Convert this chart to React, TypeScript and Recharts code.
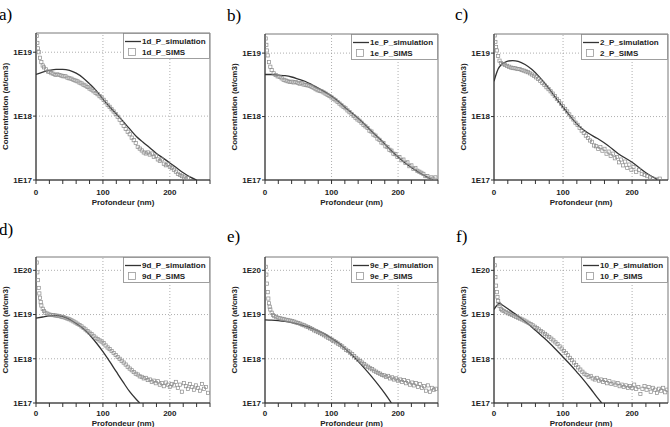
import React from 'react';
import { ComposedChart, Line, Scatter, XAxis, YAxis, ReferenceLine, ReferenceArea } from 'recharts';

type P = [number, number];

// depth (nm), concentration (at/cm3)
const sim1d: P[] = [[0,4.5e18],[10,4.9e18],[20,5.2e18],[30,5.4e18],[40,5.4e18],[50,5.2e18],[60,4.7e18],[70,4.0e18],[80,3.2e18],[90,2.5e18],[100,1.85e18],[110,1.4e18],[120,1.08e18],[130,8.3e17],[140,6.3e17],[150,4.8e17],[160,3.9e17],[170,3.2e17],[180,2.6e17],[190,2.2e17],[200,1.85e17],[210,1.55e17],[220,1.3e17],[230,1.12e17],[240,1.0e17]];
const sims1d: P[] = [[1,1.8e19],[2,1.4e19],[3,1.15e19],[4,1.0e19],[6,8.2e18],[8,7e18],[10,6.2e18],[12,5.8e18],[15,5.4e18],[18,5.0e18],[20,4.9e18],[23,4.7e18],[26,4.6e18],[29,4.4e18],[32,4.5e18],[35,4.4e18],[38,4.3e18],[41,4.2e18],[44,4.2e18],[47,4.0e18],[50,3.9e18],[53,3.85e18],[56,3.7e18],[59,3.6e18],[62,3.5e18],[65,3.35e18],[68,3.25e18],[71,3.1e18],[74,3.0e18],[77,2.85e18],[80,2.7e18],[83,2.6e18],[86,2.45e18],[89,2.3e18],[92,2.2e18],[95,2.05e18],[98,1.95e18],[101,1.8e18],[104,1.65e18],[107,1.5e18],[110,1.4e18],[113,1.28e18],[116,1.18e18],[119,1.08e18],[122,9.8e17],[125,8.8e17],[128,7.8e17],[131,7.0e17],[134,6.3e17],[137,5.7e17],[140,5.2e17],[143,4.6e17],[146,4.2e17],[149,3.8e17],[152,3.3e17],[155,3.1e17],[158,2.9e17],[161,2.7e17],[164,2.6e17],[167,2.7e17],[170,2.5e17],[173,2.6e17],[176,2.3e17],[179,2.4e17],[182,2.1e17],[185,2.0e17],[188,2.1e17],[191,1.8e17],[194,1.7e17],[197,1.75e17],[200,1.6e17],[203,1.55e17],[206,1.45e17],[209,1.35e17],[212,1.25e17],[215,1.2e17],[218,1.15e17],[221,1.1e17],[224,1.05e17],[227,1.08e17]];

const sim1e: P[] = [[0,4.6e18],[10,4.6e18],[20,4.5e18],[30,4.4e18],[40,4.2e18],[50,3.9e18],[60,3.6e18],[70,3.2e18],[80,2.8e18],[90,2.45e18],[100,2.1e18],[110,1.75e18],[120,1.4e18],[137,1.0e18],[150,7.5e17],[162,5.6e17],[175,4.2e17],[187,3.1e17],[200,2.3e17],[212,1.8e17],[225,1.45e17],[238,1.2e17],[252,1.0e17]];
const sims1e: P[] = [[1,1.7e19],[2,1.35e19],[3,1.1e19],[4,9.2e18],[6,7.2e18],[8,6.1e18],[10,5.4e18],[13,4.8e18],[16,4.5e18],[19,4.3e18],[22,4.2e18],[25,4.0e18],[28,3.8e18],[31,3.7e18],[34,3.6e18],[37,3.5e18],[40,3.55e18],[43,3.45e18],[46,3.5e18],[49,3.4e18],[52,3.3e18],[55,3.35e18],[58,3.2e18],[61,3.15e18],[64,3.1e18],[67,3.05e18],[70,2.95e18],[73,2.85e18],[76,2.7e18],[79,2.6e18],[82,2.55e18],[85,2.5e18],[88,2.4e18],[91,2.3e18],[94,2.2e18],[97,2.1e18],[100,2.0e18],[103,1.9e18],[106,1.8e18],[109,1.7e18],[112,1.6e18],[115,1.5e18],[118,1.42e18],[121,1.35e18],[124,1.25e18],[127,1.17e18],[130,1.1e18],[133,1.02e18],[136,9.6e17],[139,9e17],[142,8.6e17],[145,8.0e17],[148,7.4e17],[151,7.0e17],[154,6.6e17],[157,6.0e17],[160,5.8e17],[163,5.2e17],[166,5.0e17],[169,4.5e17],[172,4.3e17],[175,3.9e17],[178,3.8e17],[181,3.4e17],[184,3.3e17],[187,3.0e17],[190,2.9e17],[193,2.6e17],[196,2.55e17],[199,2.3e17],[202,2.3e17],[205,2.05e17],[208,2.1e17],[211,1.85e17],[214,1.9e17],[217,1.65e17],[220,1.7e17],[223,1.5e17],[226,1.55e17],[229,1.4e17],[232,1.35e17],[235,1.3e17],[238,1.25e17],[241,1.15e17],[244,1.15e17],[247,1.05e17],[250,1.1e17],[253,1.05e17],[256,1.1e17]];

const sim2: P[] = [[0,3.6e18],[3,4.6e18],[6,5.6e18],[10,6.5e18],[15,7.1e18],[20,7.5e18],[27,7.6e18],[35,7.4e18],[45,6.6e18],[55,5.5e18],[65,4.3e18],[75,3.2e18],[85,2.3e18],[95,1.65e18],[105,1.2e18],[115,8.8e17],[125,6.8e17],[135,5.6e17],[150,4.5e17],[165,3.5e17],[180,2.6e17],[200,1.9e17],[220,1.3e17],[238,1.0e17]];
const sims2: P[] = [[1,1.9e19],[2,1.5e19],[3,1.25e19],[4,1.1e19],[6,9e18],[8,7.6e18],[10,7e18],[13,6.7e18],[16,6.5e18],[19,6.3e18],[22,6.1e18],[25,5.9e18],[28,5.8e18],[31,5.75e18],[34,5.6e18],[37,5.6e18],[40,5.4e18],[43,5.3e18],[46,5.15e18],[49,5.0e18],[52,4.8e18],[55,4.6e18],[58,4.4e18],[61,4.15e18],[64,3.9e18],[67,3.65e18],[70,3.4e18],[73,3.15e18],[76,2.9e18],[79,2.7e18],[82,2.5e18],[85,2.3e18],[88,2.1e18],[91,1.9e18],[94,1.75e18],[97,1.6e18],[100,1.45e18],[103,1.32e18],[106,1.2e18],[109,1.08e18],[112,9.8e17],[115,9.0e17],[118,8.0e17],[121,7.4e17],[124,6.6e17],[127,6.0e17],[130,5.5e17],[133,5.0e17],[136,4.6e17],[139,4.2e17],[142,4.0e17],[145,3.5e17],[148,3.4e17],[151,3.1e17],[154,3.3e17],[157,2.9e17],[160,3.1e17],[163,2.6e17],[166,2.8e17],[169,2.4e17],[172,2.6e17],[175,2.2e17],[178,2.3e17],[181,1.9e17],[184,2.1e17],[187,1.7e17],[190,1.95e17],[193,1.55e17],[196,1.75e17],[199,1.45e17],[202,1.6e17],[206,1.35e17],[210,1.45e17],[214,1.25e17],[218,1.2e17],[222,1.15e17],[226,1.1e17],[230,1.05e17],[235,1.02e17],[240,1.05e17]];

const sim9d: P[] = [[0,8.3e18],[10,8.8e18],[20,9.3e18],[30,9.5e18],[40,9.0e18],[50,7.8e18],[60,6.3e18],[70,4.9e18],[80,3.5e18],[90,2.3e18],[100,1.45e18],[110,8.7e17],[120,5.1e17],[130,3.0e17],[140,1.8e17],[150,1.2e17],[155,1.0e17]];
const sims9d: P[] = [[1,1.5e20],[2,9e19],[3,6e19],[4,4e19],[5,3e19],[6,2.4e19],[7,1.9e19],[8,1.6e19],[10,1.35e19],[12,1.2e19],[14,1.1e19],[17,1.05e19],[20,1.0e19],[23,9.8e18],[26,9.7e18],[29,9.5e18],[32,9.4e18],[35,9.2e18],[38,8.9e18],[41,8.7e18],[44,8.4e18],[47,8.1e18],[50,7.8e18],[53,7.4e18],[56,7.0e18],[59,6.6e18],[62,6.2e18],[65,5.8e18],[68,5.4e18],[71,5.0e18],[74,4.6e18],[77,4.2e18],[80,3.9e18],[83,3.6e18],[86,3.3e18],[89,3.0e18],[92,2.8e18],[95,2.6e18],[98,2.45e18],[101,2.25e18],[104,2.0e18],[107,1.8e18],[110,1.65e18],[113,1.5e18],[116,1.35e18],[119,1.22e18],[122,1.1e18],[125,1.0e18],[128,9.0e17],[131,8.2e17],[134,7.4e17],[137,6.6e17],[140,6.0e17],[143,5.5e17],[146,5.0e17],[149,4.6e17],[152,4.4e17],[155,4.0e17],[158,3.9e17],[161,3.6e17],[164,3.7e17],[167,3.3e17],[170,3.4e17],[173,3.0e17],[176,3.2e17],[179,2.8e17],[182,3.1e17],[185,2.6e17],[188,2.8e17],[191,2.4e17],[194,2.9e17],[197,2.6e17],[200,2.3e17],[203,2.7e17],[206,2.5e17],[209,3.0e17],[212,2.2e17],[215,2.6e17],[218,1.8e17],[221,2.8e17],[224,2.4e17],[227,2.1e17],[230,2.7e17],[233,2.3e17],[236,2.0e17],[239,2.5e17],[242,2.2e17],[245,1.9e17],[248,2.7e17],[251,2.1e17],[254,2.3e17],[257,1.7e17]];

const sim9e: P[] = [[0,7.6e18],[10,7.5e18],[20,7.3e18],[30,7.0e18],[40,6.6e18],[50,6.1e18],[60,5.5e18],[70,4.9e18],[80,4.2e18],[90,3.6e18],[100,2.9e18],[110,2.3e18],[120,1.7e18],[130,1.25e18],[140,8.8e17],[150,6.0e17],[160,4.0e17],[170,2.6e17],[180,1.65e17],[190,1.0e17]];
const sims9e: P[] = [[1,1.2e20],[2,8e19],[3,5e19],[4,3.2e19],[5,2.3e19],[6,1.8e19],[7,1.5e19],[8,1.3e19],[10,1.1e19],[12,9.8e18],[14,9.2e18],[17,8.7e18],[20,8.4e18],[23,8.2e18],[26,8.0e18],[29,7.8e18],[32,7.6e18],[35,7.4e18],[38,7.3e18],[41,7.1e18],[44,6.9e18],[47,6.6e18],[50,6.4e18],[53,6.2e18],[56,5.9e18],[59,5.7e18],[62,5.4e18],[65,5.2e18],[68,4.9e18],[71,4.7e18],[74,4.4e18],[77,4.2e18],[80,4.0e18],[83,3.8e18],[86,3.6e18],[89,3.4e18],[92,3.2e18],[95,3.0e18],[98,2.85e18],[101,2.7e18],[104,2.5e18],[107,2.35e18],[110,2.2e18],[113,2.05e18],[116,1.9e18],[119,1.75e18],[122,1.6e18],[125,1.5e18],[128,1.38e18],[131,1.27e18],[134,1.15e18],[137,1.05e18],[140,9.6e17],[143,8.9e17],[146,8.2e17],[149,7.6e17],[152,7.0e17],[155,6.6e17],[158,6.1e17],[161,5.8e17],[164,5.4e17],[167,5.1e17],[170,4.8e17],[173,4.6e17],[176,4.3e17],[179,4.2e17],[182,3.9e17],[185,4.1e17],[188,3.6e17],[191,3.8e17],[194,3.4e17],[197,3.6e17],[200,3.2e17],[203,3.4e17],[206,3.0e17],[209,3.3e17],[212,2.8e17],[215,3.1e17],[218,2.6e17],[221,2.9e17],[224,2.5e17],[227,2.8e17],[230,2.3e17],[233,2.7e17],[236,2.2e17],[239,2.4e17],[242,1.9e17],[245,2.5e17],[248,1.8e17],[251,2.2e17],[254,2.0e17],[257,2.1e17]];

const sim10: P[] = [[0,1.3e19],[4,1.6e19],[8,1.8e19],[12,1.65e19],[20,1.35e19],[30,1.05e19],[40,8.0e18],[50,6.0e18],[60,4.4e18],[70,3.2e18],[80,2.3e18],[90,1.6e18],[100,1.1e18],[110,7.5e17],[120,5.0e17],[130,3.3e17],[140,2.1e17],[150,1.3e17],[156,1.0e17]];
const sims10: P[] = [[1,1.3e20],[2,7e19],[3,4.5e19],[4,3.2e19],[5,2.5e19],[6,2.0e19],[7,1.75e19],[8,1.55e19],[10,1.35e19],[12,1.25e19],[14,1.2e19],[17,1.13e19],[20,1.07e19],[23,1.02e19],[26,9.8e18],[29,9.3e18],[32,8.9e18],[35,8.5e18],[38,8.1e18],[41,7.7e18],[44,7.3e18],[47,6.9e18],[50,6.5e18],[53,6.1e18],[56,5.7e18],[59,5.3e18],[62,4.95e18],[65,4.6e18],[68,4.25e18],[71,3.95e18],[74,3.65e18],[77,3.35e18],[80,3.1e18],[83,2.85e18],[86,2.6e18],[89,2.35e18],[92,2.15e18],[95,1.9e18],[98,1.7e18],[101,1.5e18],[104,1.35e18],[107,1.2e18],[110,1.05e18],[113,9.3e17],[116,8.2e17],[119,7.2e17],[122,6.4e17],[125,5.7e17],[128,5.1e17],[131,4.6e17],[134,4.3e17],[137,3.9e17],[140,4.1e17],[143,3.6e17],[146,3.4e17],[149,3.7e17],[152,3.2e17],[155,3.4e17],[158,3.0e17],[161,3.3e17],[164,2.8e17],[167,3.1e17],[170,2.7e17],[173,2.9e17],[176,2.6e17],[179,2.8e17],[182,2.4e17],[185,2.6e17],[188,2.3e17],[191,2.5e17],[194,2.2e17],[197,2.4e17],[200,2.2e17],[203,2.6e17],[206,2.1e17],[209,2.3e17],[212,1.6e17],[215,2.1e17],[218,2.4e17],[221,2.0e17],[224,2.3e17],[227,1.8e17],[230,2.2e17],[233,2.0e17],[236,1.7e17],[239,2.1e17],[242,1.9e17],[245,2.2e17],[248,1.75e17],[251,2.0e17]];

const xTicks = [0, 20, 40, 60, 80, 100, 120, 140, 160, 180, 200, 220, 240, 260];
const yTicksTop = [1e17, 1e18, 1e19];
const yTicksBottom = [1e17, 1e18, 1e19, 1e20];

const FONT = '"Liberation Sans", Arial, sans-serif';
const toPts = (arr: P[]) => arr.map(([x, y]) => ({ x, y }));

const Square = (p: any) => (
  <rect x={p.cx - 1.6} y={p.cy - 1.6} width={3.2} height={3.2} fill="none" stroke="#8a8a8a" strokeWidth={0.7} />
);

interface PanelProps {
  plotLeft: number; plotTop: number; plotW: number; plotH: number;
  xMax: number; yMax: number; yTicks: number[];
  sim: P[]; sims: P[]; name: string; labelOffset: number; tickGap: number;
}

function Panel({ plotLeft, plotTop, plotW, plotH, xMax, yMax, yTicks, sim, sims, name, labelOffset, tickGap }: PanelProps) {
  const yw = 36, mt = 10, xh = 30, mr = 2;
  const W = yw + plotW + mr, H = mt + plotH + xh;
  const tickStyle = { fontSize: 8, fontWeight: 'bold' as const, fill: '#222', fontFamily: FONT };
  const grid = { stroke: '#9a9a9a', strokeDasharray: '1 2', strokeWidth: 0.8 };
  const lx = plotLeft + plotW - 87;
  return (
    <>
      <div style={{ position: 'absolute', left: plotLeft - yw, top: plotTop - mt }}>
        <ComposedChart width={W} height={H} margin={{ top: mt, right: mr, bottom: 0, left: 0 }}>
          <XAxis
            type="number" dataKey="x" domain={[0, xMax]} ticks={xTicks.filter((t) => t <= xMax)}
            allowDataOverflow height={xh} tickSize={4} tickMargin={tickGap}
            tickFormatter={(v: number) => (v % 100 === 0 ? String(v) : '')}
            tick={tickStyle} stroke="#333"
            label={{ value: 'Profondeur (nm)', position: 'insideBottom', offset: labelOffset, style: { fontSize: 8, fontWeight: 'bold', fill: '#222', fontFamily: FONT } }}
          />
          <YAxis
            type="number" dataKey="y" scale="log" domain={[1e17, yMax]} ticks={yTicks}
            allowDataOverflow width={yw} tickSize={3} tickMargin={1}
            tickFormatter={(v: number) => '1E' + Math.round(Math.log10(v))}
            tick={tickStyle} stroke="#333"
            label={{ value: 'Concentration (at/cm3)', angle: -90, position: 'insideLeft', offset: 5.5, style: { fontSize: 8, fontWeight: 'bold', fill: '#222', fontFamily: FONT, textAnchor: 'middle' } }}
          />
          {[100, 200].filter((v) => v < xMax).map((v) => <ReferenceLine key={'x' + v} x={v} {...grid} />)}
          {yTicks.slice(1).map((v) => <ReferenceLine key={'y' + v} y={v} {...grid} />)}
          <ReferenceArea x1={0} x2={xMax} y1={1e17} y2={yMax} fill="none" stroke="#555" strokeWidth={0.8} />
          <Scatter data={toPts(sims)} dataKey="y" shape={Square} isAnimationActive={false} />
          <Line data={toPts(sim)} dataKey="y" type="monotone" stroke="#333" strokeWidth={1.3} dot={false} isAnimationActive={false} />
        </ComposedChart>
      </div>
      <svg style={{ position: 'absolute', left: lx, top: plotTop }} width={87} height={26}>
        <rect x={0.5} y={0.5} width={86} height={25} fill="#fff" stroke="#888" strokeWidth={0.8} />
        <line x1={2} y1={8.5} x2={18} y2={8.5} stroke="#333" strokeWidth={1.3} />
        <rect x={5.5} y={15.5} width={7} height={7} fill="none" stroke="#999" strokeWidth={0.8} />
        <text x={19} y={11} fontSize={8} fontWeight="bold" fill="#222" fontFamily={FONT}>{name + '_simulation'}</text>
        <text x={19} y={22} fontSize={8} fontWeight="bold" fill="#222" fontFamily={FONT}>{name + '_SIMS'}</text>
      </svg>
    </>
  );
}

const letters: [string, number, number][] = [['a)', -1, 20], ['b)', 227, 20.5], ['c)', 455, 20], ['d)', -1, 235], ['e)', 227, 242], ['f)', 456, 242]];

export default function App() {
  return (
    <div style={{ position: 'absolute', left: 0, top: 0, width: 670, height: 427, overflow: 'hidden', background: '#fff' }}>
      <Panel plotLeft={36} plotTop={33} plotW={174} plotH={147} xMax={260} yMax={2e19} yTicks={yTicksTop} sim={sim1d} sims={sims1d} name="1d_P" labelOffset={5} tickGap={5} />
      <Panel plotLeft={265} plotTop={34} plotW={173} plotH={146} xMax={260} yMax={2e19} yTicks={yTicksTop} sim={sim1e} sims={sims1e} name="1e_P" labelOffset={5} tickGap={5} />
      <Panel plotLeft={494} plotTop={34} plotW={174} plotH={146} xMax={252} yMax={2e19} yTicks={yTicksTop} sim={sim2} sims={sims2} name="2_P" labelOffset={5} tickGap={5} />
      <Panel plotLeft={36} plotTop={257} plotW={174} plotH={146} xMax={260} yMax={2e20} yTicks={yTicksBottom} sim={sim9d} sims={sims9d} name="9d_P" labelOffset={7.5} tickGap={3} />
      <Panel plotLeft={265} plotTop={257} plotW={173} plotH={146} xMax={260} yMax={2e20} yTicks={yTicksBottom} sim={sim9e} sims={sims9e} name="9e_P" labelOffset={7.5} tickGap={3} />
      <Panel plotLeft={494} plotTop={257} plotW={174} plotH={146} xMax={252} yMax={2e20} yTicks={yTicksBottom} sim={sim10} sims={sims10} name="10_P" labelOffset={7.5} tickGap={3} />
      <svg style={{ position: 'absolute', left: 0, top: 0 }} width={670} height={427}>
        {letters.map(([t, x, y]) => (
          <text key={t} x={x} y={y} fontSize={17} fontFamily='"Liberation Serif", "Times New Roman", serif' fill="#000">{t}</text>
        ))}
      </svg>
    </div>
  );
}
